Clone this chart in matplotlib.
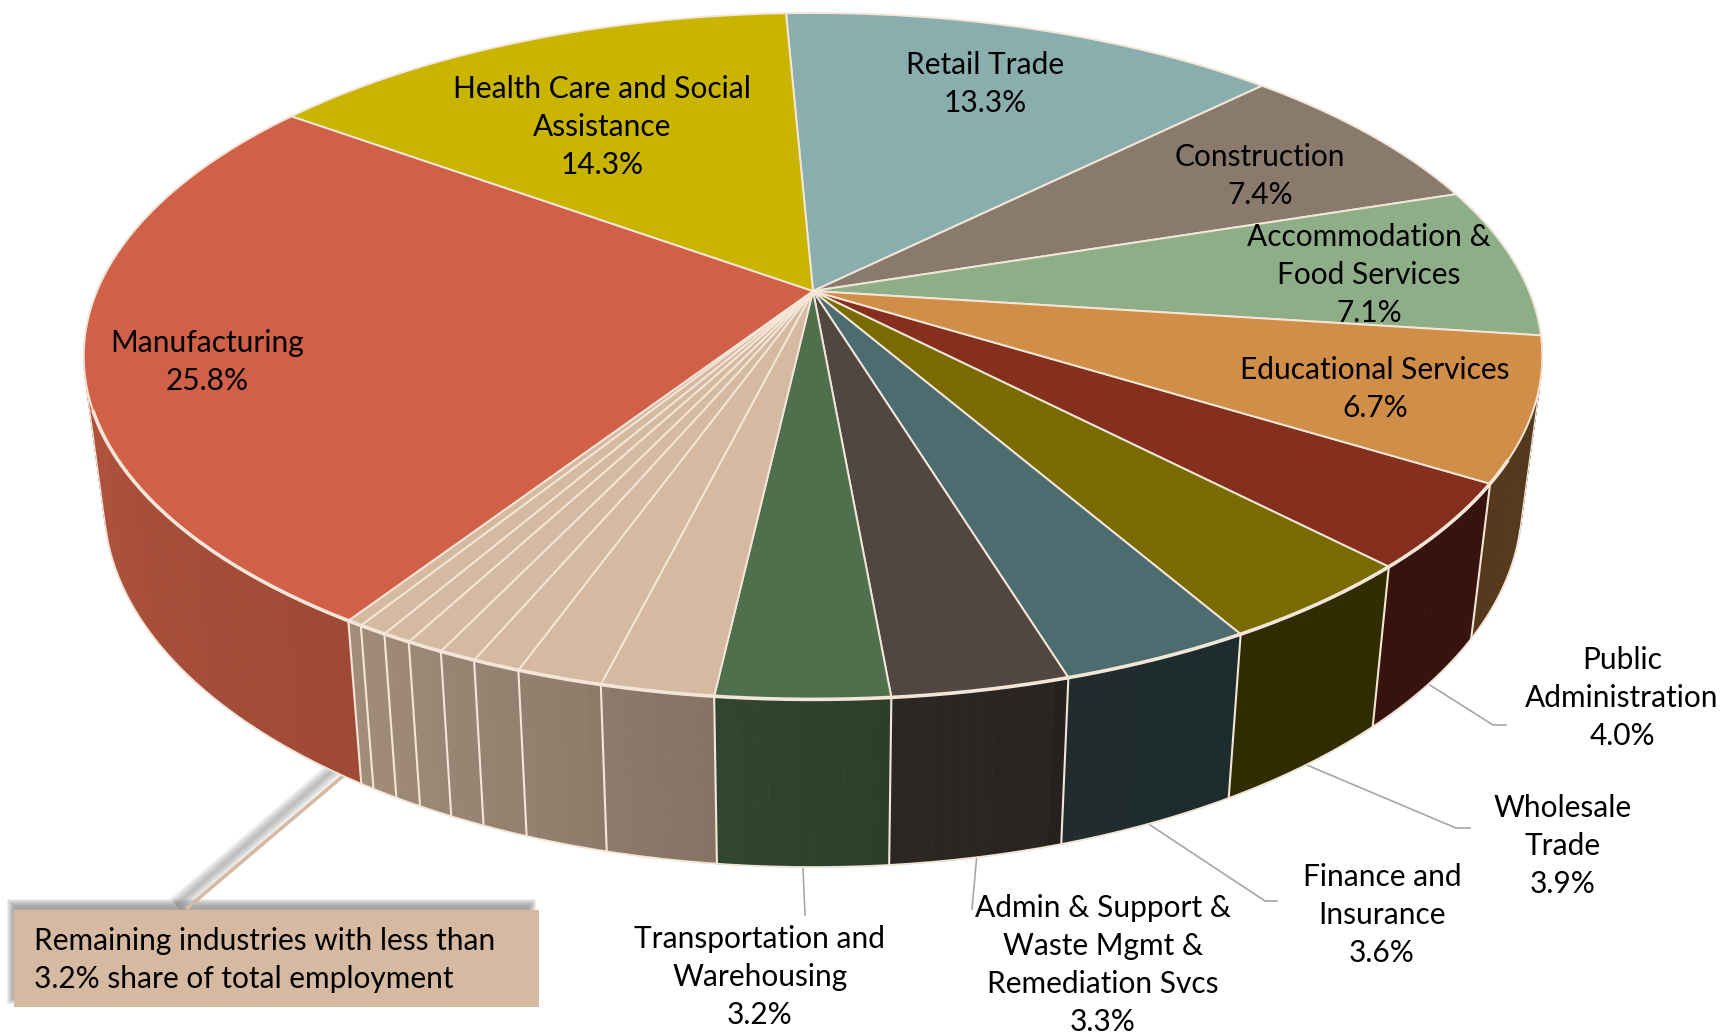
import numpy as np
import matplotlib
matplotlib.use('Agg')
import matplotlib.pyplot as plt
from matplotlib.patches import Rectangle

plt.rcParams['font.family'] = ['Lato', 'DejaVu Sans']

# clockwise from the top of the pie
industries = ['Retail Trade', 'Construction', 'Accommodation &\nFood Services', 'Educational Services',
              'Public\nAdministration', 'Wholesale\nTrade', 'Finance and\nInsurance',
              'Admin & Support &\nWaste Mgmt &\nRemediation Svcs', 'Transportation and\nWarehousing',
              '', '', '', '', '', '', '', '',
              'Manufacturing', 'Health Care and Social\nAssistance']
shares = [13.3, 7.4, 7.1, 6.7, 4.0, 3.9, 3.6, 3.3, 3.2,
          2.1, 1.6, 0.9, 0.7, 0.7, 0.55, 0.55, 0.3,
          25.8, 14.3]
colors = ['#8AADAE', '#8A7A6C', '#8EAE88', '#D08E49', '#85301F', '#796B00', '#4D6C70', '#514640', '#4F704D',
          '#D5B9A0', '#D5B9A0', '#D5B9A0', '#D5B9A0', '#D5B9A0', '#D5B9A0', '#D5B9A0', '#D5B9A0',
          '#D06148', '#C9B400']
callout_text = 'Remaining industries with less than\n3.2% share of total employment'

# label centres in pixels, empty names get no label
label_pos = {'Retail Trade': (985, 84), 'Construction': (1260, 176),
             'Accommodation &\nFood Services': (1369, 275), 'Educational Services': (1375, 389),
             'Public\nAdministration': (1622, 698), 'Wholesale\nTrade': (1563, 846),
             'Finance and\nInsurance': (1382, 915),
             'Admin & Support &\nWaste Mgmt &\nRemediation Svcs': (1103, 965),
             'Transportation and\nWarehousing': (760, 977),
             'Manufacturing': (207, 362), 'Health Care and Social\nAssistance': (602, 127)}
# where each gray leader ends: elbow and tip
leaders = {'Public\nAdministration': [(1493, 725), (1506, 725)],
           'Wholesale\nTrade': [(1456, 828), (1470, 828)],
           'Finance and\nInsurance': [(1265, 901), (1277, 901)],
           'Admin & Support &\nWaste Mgmt &\nRemediation Svcs': [(972, 909)],
           'Transportation and\nWarehousing': [(805, 915)]}

CX, CY = 813, 291     # pie apex
RX, RY = 716, 330.8
K = 0.19              # perspective
START = -2.57
EDGE = '#F3E6D8'
FONT = 21.5
SPACING = 1.44


def top_xy(t):
    t = np.radians(t)
    w = 1 + K * np.cos(t)
    return CX + RX * np.sin(t) / w, CY - RY * np.cos(t) / w


def bot_xy(t):
    t = np.radians(t)
    w = 1 + K * np.cos(t)
    return CX + 0.972 * RX * np.sin(t) / w, CY + 144 - 350 * np.cos(t) / w


def wall_shade(t):
    return np.interp(t, [105, 163, 164, 175, 186, 213, 262], [.40, .41, .52, .56, .62, .76, .85])


edges = START + np.concatenate([[0], np.cumsum(shares)]) * 3.6
mids = (edges[:-1] + edges[1:]) / 2

fig = plt.figure(figsize=(17.23, 10.34), dpi=100)
ax = fig.add_axes([0, 0, 1, 1])
ax.set_xlim(0, 1723)
ax.set_ylim(1034, 0)
ax.axis('off')

# soft shadow under the callout leader
for i in range(14):
    ax.plot([176, 338], [905, 766], color='gray', lw=13 - .9 * i, alpha=.045, solid_capstyle='butt', zorder=1)

# side walls, in thin strips so the shading can change along them
for i, col in enumerate(colors):
    a, b = edges[i], edges[i + 1]
    if b < 97 or a > 300:
        continue
    rgb = np.array(matplotlib.colors.to_rgb(col))
    ts = np.arange(a, b + 1, 1.0)
    ts = np.append(ts[ts < b], b)
    for t0, t1 in zip(ts[:-1], ts[1:]):
        x0, y0 = top_xy(t0)
        x1, y1 = top_xy(t1)
        x2, y2 = bot_xy(t1)
        x3, y3 = bot_xy(t0)
        shade = rgb * wall_shade((t0 + t1) / 2)
        ax.fill([x0, x1, x2, x3], [y0, y1, y2, y3], color=shade, lw=.6, zorder=2)

# separators between the walls
for t in edges:
    t = (t + 360) % 360
    if 105 < t < 255:
        x0, y0 = top_xy(t)
        x1, y1 = bot_xy(t)
        ax.plot([x0, x1], [y0, y1], color=EDGE, lw=1.5, zorder=3)

# lower rim and the two outer sides
ts = np.linspace(105, 255, 200)
ax.plot(*bot_xy(ts), color=EDGE, lw=1.3, zorder=3)
for t in [105, 255]:
    ax.plot([top_xy(t)[0], bot_xy(t)[0]], [top_xy(t)[1], bot_xy(t)[1]], color=EDGE, lw=1, zorder=3)

# top faces
for i, col in enumerate(colors):
    ts = np.linspace(edges[i], edges[i + 1], 80)
    xs, ys = top_xy(ts)
    z = 6 if industries[i] == 'Educational Services' else 4
    ax.fill(np.r_[CX, xs], np.r_[CY, ys], facecolor=col, edgecolor=EDGE, lw=1.4, joinstyle='round', zorder=z)

# the front of the rim is drawn heavier
ts = np.linspace(118, 250, 200)
ax.plot(*top_xy(ts), color=EDGE, lw=2.6, zorder=7)

# labels
for i, name in enumerate(industries):
    if not name:
        continue
    x, y = label_pos[name]
    z = 5 if name.startswith('Accommodation') else 8
    ax.text(x, y, f'{name}\n{shares[i]:.1f}%', ha='center', va='center', fontsize=FONT,
            linespacing=SPACING, color='black', zorder=z)
    if name in leaders:
        pts = [bot_xy(mids[i])] + leaders[name]
        ax.plot([p[0] for p in pts], [p[1] for p in pts], color='#A6A6A6', lw=1.2, zorder=1)

# callout box with its shadow and leader
for i in range(8):
    ax.add_patch(Rectangle((7 + i, 899 + i), 529 - 2 * i, 105 - 2 * i, facecolor='gray', alpha=.13, lw=0, zorder=1))
ax.plot([186, 343], [909, 776], color='#D5B9A0', lw=2.6, solid_capstyle='butt', zorder=1.5)
ax.add_patch(Rectangle((14, 910), 525, 97, facecolor='#D5B9A0', lw=0, zorder=2))
ax.text(34, 960, callout_text, ha='left', va='center', fontsize=FONT, linespacing=SPACING, color='black', zorder=8)

fig.savefig('out.png', dpi=100, facecolor='white')
